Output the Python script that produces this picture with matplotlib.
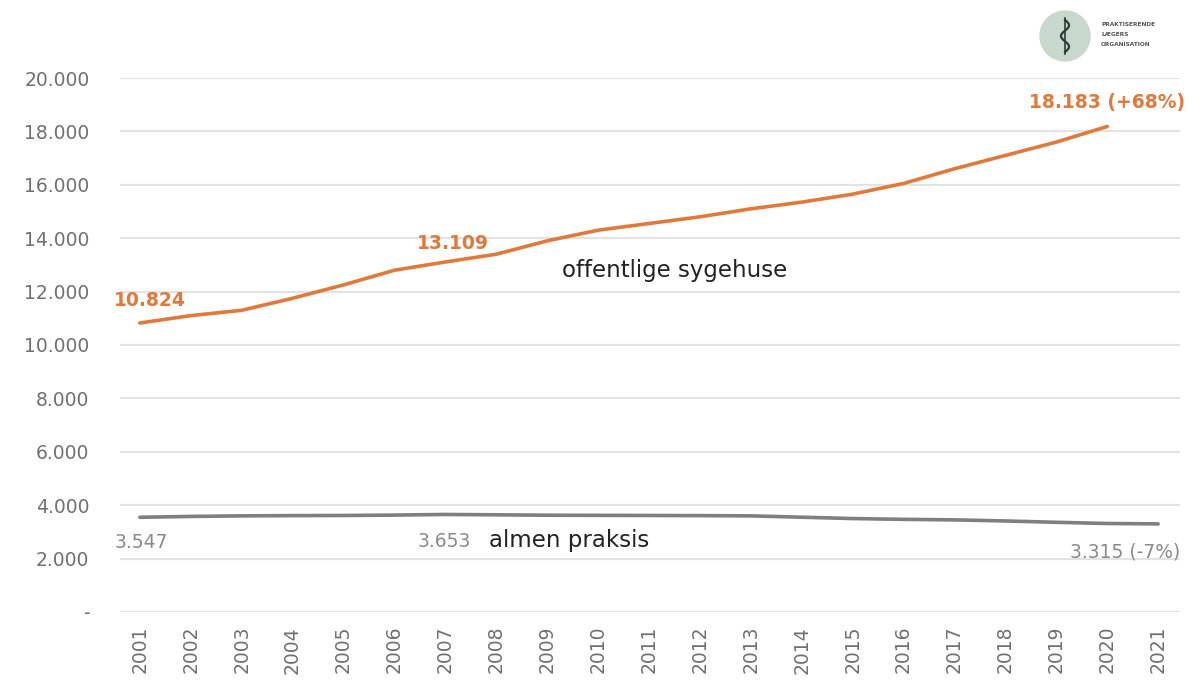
import matplotlib
matplotlib.use("Agg")
import matplotlib.pyplot as plt
import numpy as np
from matplotlib.ticker import FuncFormatter
from matplotlib.patches import Circle

years = list(range(2001, 2022))
sygehuse = [10824, 11100, 11300, 11750, 12250, 12800, 13109, 13400, 13900, 14300,
            14550, 14800, 15100, 15350, 15650, 16050, 16600, 17100, 17600, 18183, None]
almen = [3547, 3580, 3600, 3610, 3615, 3630, 3653, 3640, 3625, 3620,
         3615, 3610, 3600, 3550, 3500, 3470, 3450, 3410, 3360, 3315, 3300]
yticks = [0, 2000, 4000, 6000, 8000, 10000, 12000, 14000, 16000, 18000, 20000]

ORANGE = "#e0793a"
GRAY = "#7f7f7f"
TXT = "#707070"

fig = plt.figure(figsize=(11.94, 6.90), dpi=100)
ax = fig.add_axes([120/1194, 1-612/690, (1180-120)/1194, (612-78)/690])

ys = [np.nan if v is None else v for v in sygehuse]
ax.plot(years, ys, color=ORANGE, lw=2.6, solid_capstyle="round", zorder=3)
ax.plot(years, almen, color=GRAY, lw=2.6, solid_capstyle="round", zorder=3)

ax.set_ylim(0, 20000)
ax.set_xlim(2000.61, 2021.43)
ax.set_yticks(yticks)
ax.yaxis.set_major_formatter(FuncFormatter(lambda v, p: "-" if v == 0 else f"{int(v):,}".replace(",", ".")))
ax.set_xticks(years)
ax.set_xticklabels([str(y) for y in years], rotation=90)
ax.grid(axis="y", color="#e3e3e3", lw=1.5)
ax.set_axisbelow(True)
for s in ax.spines.values():
    s.set_visible(False)
ax.tick_params(axis="both", length=0, labelsize=13.5, colors=TXT, labelcolor=TXT)
ax.tick_params(axis="y", pad=22)
ax.tick_params(axis="x", pad=10)

# annotations
ax.text(2001 - 0.5, sygehuse[0] + 500, "10.824", color=ORANGE, fontsize=13.5, fontweight="bold", ha="left", va="bottom")
ax.text(2006.45, sygehuse[6] + 350, "13.109", color=ORANGE, fontsize=13.5, fontweight="bold", ha="left", va="bottom")
ax.text(2021.53, sygehuse[19] + 550, "18.183 (+68%)", color=ORANGE, fontsize=13.5, fontweight="bold", ha="right", va="bottom")
ax.text(2009.3, 12350, "offentlige sygehuse", color="#222222", fontsize=16.5, ha="left", va="bottom")

ax.text(2001 - 0.5, almen[0] - 600, "3.547", color="#8a8a8a", fontsize=13.5, ha="left", va="top")
ax.text(2006.45, almen[6] - 650, "3.653", color="#8a8a8a", fontsize=13.5, ha="left", va="top")
ax.text(2007.85, almen[6] - 550, "almen praksis", color="#222222", fontsize=16.5, ha="left", va="top")
ax.text(2021.43, almen[19] - 700, "3.315 (-7%)", color="#8a8a8a", fontsize=13.5, ha="right", va="top")

# logo
lax = fig.add_axes([1035/1194, 1-62/690, 160/1194, 52/690])
lax.set_xlim(0, 160)
lax.set_ylim(0, 52)
lax.set_aspect("equal")
lax.axis("off")
lax.add_patch(Circle((30, 26), 25, color="#c9d8cc"))
t = np.linspace(0, 1, 100)
lax.plot([30, 30], [8, 44], color="#2e3b33", lw=1.2)
lax.plot(30 + 4*np.sin(t*3*np.pi), 10 + 32*t, color="#2e3b33", lw=1.6)
lax.text(66, 37, "PRAKTISERENDE", fontsize=4.2, color="#555555", va="center", fontweight="bold")
lax.text(66, 27, "LÆGERS", fontsize=4.2, color="#555555", va="center", fontweight="bold")
lax.text(66, 17, "ORGANISATION", fontsize=4.2, color="#555555", va="center", fontweight="bold")

fig.savefig("out.png", dpi=100)
